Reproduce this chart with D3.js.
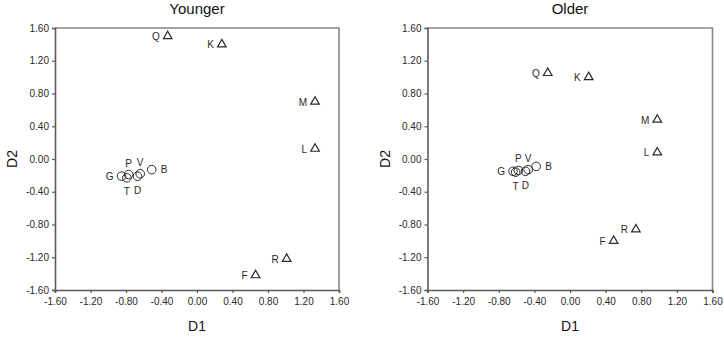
<!DOCTYPE html>
<html>
<head>
<meta charset="utf-8">
<script src="https://cdn.jsdelivr.net/npm/d3@7"></script>
<style>
  html, body { margin: 0; padding: 0; background: #fff; }
  svg { display: block; font-family: "Liberation Sans", Arial, Helvetica, sans-serif; }
</style>
</head>
<body>
<svg id="chart" width="724" height="340"></svg>
<script>
// ---- data ----
const letters = ["Q", "K", "M", "L", "R", "F", "G", "P", "T", "V", "D", "B"];
const shapes  = ["triangle", "triangle", "triangle", "triangle", "triangle", "triangle",
                 "circle", "circle", "circle", "circle", "circle", "circle"];
const labelSide = ["left", "left", "left", "left", "left", "left",
                   "left", "top", "bottom", "top", "bottom", "right"];
const youngerD1 = [-0.33, 0.28, 1.33, 1.33, 1.01, 0.66, -0.85, -0.77, -0.79, -0.64, -0.67, -0.51];
const youngerD2 = [ 1.50, 1.40, 0.70, 0.125, -1.22, -1.42, -0.21, -0.19, -0.23, -0.18, -0.21, -0.13];
const olderD1   = [-0.25, 0.21, 0.98, 0.98, 0.74, 0.49, -0.64, -0.58, -0.61, -0.47, -0.50, -0.38];
const olderD2   = [ 1.05, 1.00, 0.48, 0.08, -0.86, -1.00, -0.15, -0.14, -0.16, -0.13, -0.15, -0.09];
const tickValues = [-1.60, -1.20, -0.80, -0.40, 0.00, 0.40, 0.80, 1.20, 1.60];
const panelTitles = ["Younger", "Older"];
const xTitle = "D1", yTitle = "D2";

const svg = d3.select("#chart");
const panels = [
  { title: panelTitles[0], d1: youngerD1, d2: youngerD2, x0: 55, x1: 339 },
  { title: panelTitles[1], d1: olderD1,   d2: olderD2,   x0: 427.5, x1: 712.5 }
];
const yTop = 28, yBot = 290;
const fmt = v => v.toFixed(2);
const axisColor = "#5a5a5a";
const ink = "#2a2a2a";

panels.forEach(p => {
  const x = d3.scaleLinear().domain([-1.6, 1.6]).range([p.x0, p.x1]);
  const y = d3.scaleLinear().domain([-1.6, 1.6]).range([yBot, yTop]);
  const g = svg.append("g");

  // frame (top and right)
  g.append("path")
    .attr("d", `M${p.x0},${yTop}H${p.x1}V${yBot}`)
    .attr("fill", "none").attr("stroke", "#888").attr("stroke-width", 1.6);

  const xAxis = d3.axisBottom(x).tickValues(tickValues).tickFormat(fmt).tickSize(3).tickPadding(5);
  const yAxis = d3.axisLeft(y).tickValues(tickValues).tickFormat(fmt).tickSize(3).tickPadding(3);

  const gx = g.append("g").attr("transform", `translate(0,${yBot})`).call(xAxis);
  const gy = g.append("g").attr("transform", `translate(${p.x0},0)`).call(yAxis);
  [gx, gy].forEach(a => {
    a.select(".domain").attr("stroke", axisColor).attr("stroke-width", 1.6);
    a.selectAll(".tick line").attr("stroke", axisColor).attr("stroke-width", 1.2);
    a.selectAll(".tick text").attr("fill", ink).attr("font-size", 10)
      .attr("font-family", "'Liberation Sans', Arial, sans-serif");
  });

  // titles
  g.append("text").attr("x", (p.x0 + p.x1) / 2).attr("y", 14)
    .attr("text-anchor", "middle").attr("font-size", 15).attr("fill", "#111").text(p.title);
  g.append("text").attr("x", (p.x0 + p.x1) / 2).attr("y", 331)
    .attr("text-anchor", "middle").attr("font-size", 14).attr("fill", "#111").text(xTitle);
  g.append("text")
    .attr("transform", `translate(${p.x0 - 38},${(yTop + yBot) / 2}) rotate(-90)`)
    .attr("text-anchor", "middle").attr("font-size", 14).attr("fill", "#111").text(yTitle);

  // points
  const pts = letters.map((l, i) => ({ l, shape: shapes[i], side: labelSide[i], cx: x(p.d1[i]), cy: y(p.d2[i]) }));
  const tri = d3.symbol().type(d3.symbolTriangle).size(32);
  const mk = g.append("g");
  pts.forEach(d => {
    if (d.shape === "triangle") {
      mk.append("path").attr("d", tri()).attr("transform", `translate(${d.cx},${d.cy})`)
        .attr("fill", "none").attr("stroke", ink).attr("stroke-width", 1.2);
    } else {
      mk.append("circle").attr("cx", d.cx).attr("cy", d.cy).attr("r", 4.3)
        .attr("fill", "none").attr("stroke", ink).attr("stroke-width", 1);
    }
    let tx = d.cx, ty = d.cy, anchor = "middle";
    if (d.side === "left") { tx = d.cx - 8; ty = d.cy + 4; anchor = "end"; }
    if (d.side === "right") { tx = d.cx + 9; ty = d.cy + 3.5; anchor = "start"; }
    if (d.side === "top") { ty = d.cy - 8; }
    if (d.side === "bottom") { ty = d.cy + 17.5; }
    mk.append("text").attr("x", tx).attr("y", ty).attr("text-anchor", anchor)
      .attr("font-size", 10).attr("fill", ink).text(d.l);
  });
});
</script>
</body>
</html>
